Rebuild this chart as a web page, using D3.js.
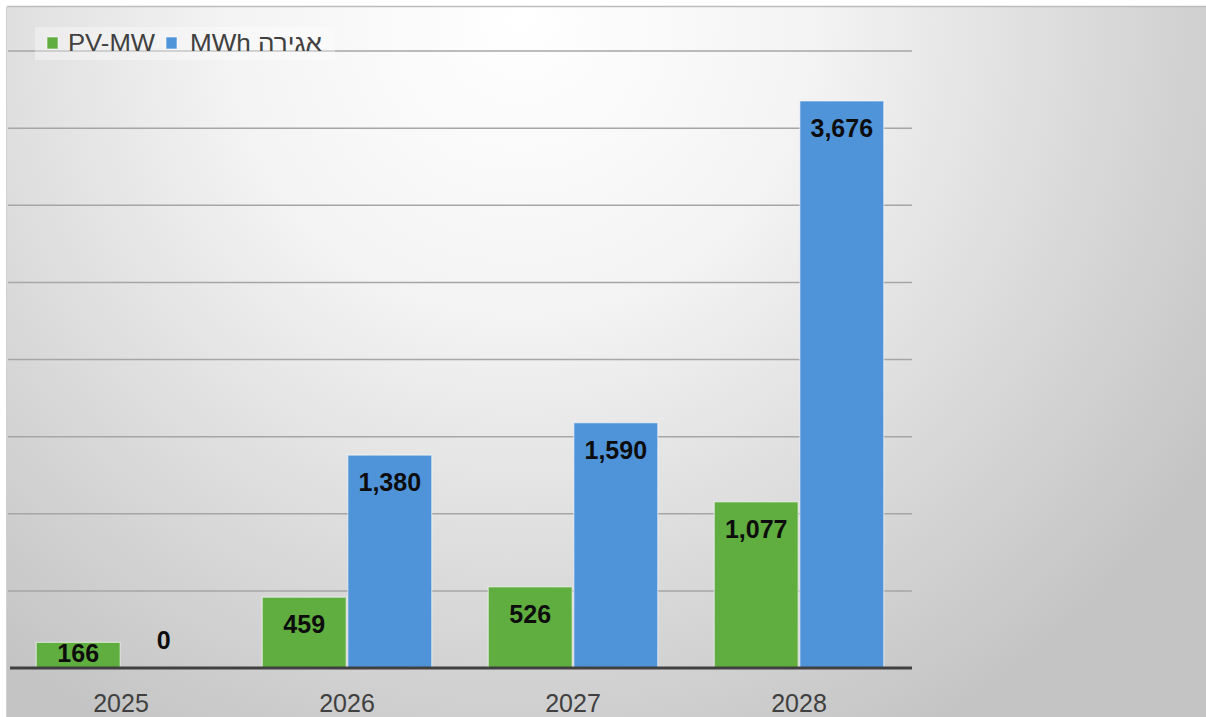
<!DOCTYPE html>
<html><head><meta charset="utf-8">
<script src="https://cdn.jsdelivr.net/npm/d3@7"></script>
<style>html,body{margin:0;padding:0;background:#fff;}svg{display:block;}</style>
</head><body>
<svg id="c" width="1206" height="717"></svg>
<script>
const categories = ["2025","2026","2027","2028"];
const seriesNames = ["PV-MW","MWh אגירה"];
const pvValues = [166,459,526,1077];
const storageValues = [0,1380,1590,3676];
const yTicks = [0,500,1000,1500,2000,2500,3000,3500,4000];
const colors = ["#60ad40","#4f94d9"];

(function(){
const svg = d3.select("#c");
const W = 1206, H = 717;
const defs = svg.append("defs");
const rg = defs.append("radialGradient").attr("id","bg")
  .attr("gradientUnits","userSpaceOnUse").attr("cx",520).attr("cy",20).attr("r",820)
  .attr("fx",520).attr("fy",20);
rg.append("stop").attr("offset","0%").attr("stop-color","#ffffff");
rg.append("stop").attr("offset","35%").attr("stop-color","#f4f4f4");
rg.append("stop").attr("offset","75%").attr("stop-color","#d6d6d6");
rg.append("stop").attr("offset","100%").attr("stop-color","#c4c4c4");

svg.append("rect").attr("width",W).attr("height",H).attr("fill","#fff");
svg.append("rect").attr("x",7).attr("y",7).attr("width",W-7).attr("height",H-7).attr("fill","url(#bg)");
svg.append("line").attr("x1",7).attr("x2",W).attr("y1",6.5).attr("y2",6.5).attr("stroke","#bdbdbd").attr("stroke-width",1.5);
svg.append("line").attr("x1",6.5).attr("x2",6.5).attr("y1",7).attr("y2",H).attr("stroke","#d0d0d0").attr("stroke-width",1);

const pLeft = 8, pRight = 912, pTop = 51, pBottom = 668;
const x0 = d3.scaleBand().domain(categories).range([pLeft,pRight]).paddingInner(0.25).paddingOuter(0.125);
const x1 = d3.scaleBand().domain([0,1]).range([0,x0.bandwidth()]).paddingInner(0.02);
const y = d3.scaleLinear().domain([0,4000]).range([pBottom,pTop]);

svg.append("g").selectAll("line").data(yTicks.filter(d=>d>0)).join("line")
  .attr("x1",pLeft).attr("x2",pRight).attr("y1",d=>y(d)).attr("y2",d=>y(d))
  .attr("stroke","#a6a6a6").attr("stroke-width",1.5);

const data = categories.map((c,i)=>({c, vals:[pvValues[i], storageValues[i]]}));
const g = svg.append("g");
data.forEach(d=>{
  d.vals.forEach((v,j)=>{
    if (v>0) {
      g.append("rect").attr("x",x0(d.c)+x1(j)).attr("y",y(v))
        .attr("width",x1.bandwidth()).attr("height",y(0)-y(v))
        .attr("fill",colors[j]).attr("stroke","rgba(255,255,255,0.55)").attr("stroke-width",1.2);
    }
  });
});

svg.append("line").attr("x1",pLeft+2).attr("x2",pRight).attr("y1",pBottom).attr("y2",pBottom)
  .attr("stroke","#404040").attr("stroke-width",3);

const xAxis = d3.axisBottom(x0).tickSize(0).tickPadding(0);
const ax = svg.append("g").attr("transform",`translate(0,${pBottom+44})`).call(xAxis);
ax.select(".domain").remove();
ax.selectAll("text").attr("font-family","'Liberation Sans', Arial, sans-serif")
  .attr("font-size",25).attr("fill","#404040").attr("y",0).attr("dy","0");

const fmt = d3.format(",");
data.forEach(d=>{
  d.vals.forEach((v,j)=>{
    let cy;
    if (v===0) cy = y(0)-28;
    else cy = Math.min(y(v)+27, y(0)-15);
    g.append("text").attr("x",x0(d.c)+x1(j)+x1.bandwidth()/2).attr("y",cy)
      .attr("dy","0.36em").attr("text-anchor","middle")
      .attr("font-family","'Liberation Sans', Arial, sans-serif").attr("font-weight","bold")
      .attr("font-size",25).attr("fill","#0d0d0d").text(fmt(v));
  });
});

const lg = svg.append("g");
lg.append("rect").attr("x",35).attr("y",27).attr("width",300).attr("height",33).attr("fill","rgba(255,255,255,0.35)");
const legendSq = [47,166];
const legendTx = [68,190];
const legendLen = [87,132];
seriesNames.forEach((n,i)=>{
  lg.append("rect").attr("x",legendSq[i]).attr("y",37).attr("width",11).attr("height",12)
    .attr("fill",colors[i]).attr("stroke","rgba(255,255,255,0.6)").attr("stroke-width",1);
  lg.append("text").attr("x",legendTx[i]).attr("y",51)
    .attr("textLength",legendLen[i]).attr("lengthAdjust","spacingAndGlyphs")
    .attr("font-family","'Liberation Sans', Arial, sans-serif").attr("font-size",24)
    .attr("fill","#404040").text(n);
});
})();
</script>
</body></html>
